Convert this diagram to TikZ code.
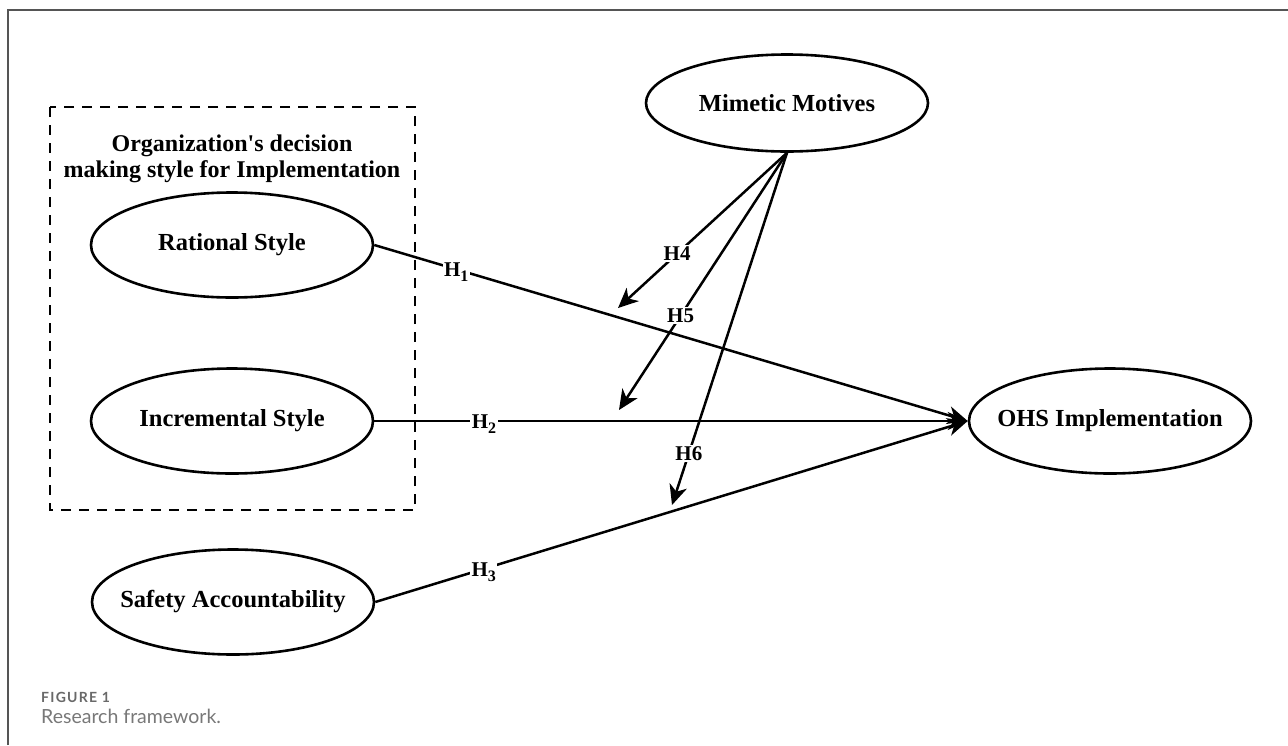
\documentclass[tikz,border=0pt]{standalone}
\usepackage{fontspec}
\setmainfont{Liberation Serif}[Ligatures=TeXOff]
\newfontfamily\capfont{Lato}
\usetikzlibrary{shapes.geometric,arrows.meta}
\definecolor{framegray}{RGB}{85,85,85}
\definecolor{capgray}{RGB}{105,105,105}
\definecolor{capgrayb}{RGB}{120,120,120}
\newcommand{\hsub}[1]{H\raisebox{-5pt}{\fontsize{16}{16}\selectfont #1}}
\begin{document}
\begin{tikzpicture}[x=1pt,y=-1pt,
  lfont/.style={font=\fontsize{24.5}{28}\selectfont\bfseries,inner sep=0pt},
  oval/.style={draw,ellipse,line width=2.6pt,inner sep=0pt,minimum width=282pt,minimum height=105pt},
  arr/.style={line width=2.5pt,-{Stealth[length=20pt,width=18pt,inset=6pt]}},
  hlab/.style={fill=white,inner sep=1.5pt,font=\fontsize{21}{24}\selectfont\bfseries},
  boxline/.style={line width=2.6pt,dash pattern=on 10pt off 8pt}]
\useasboundingbox (0,0) rectangle (1288,745);
\fill[white] (0,0) rectangle (1288,745);
% frame
\coordinate (fa) at (8,745);
\coordinate (fb) at (8,10);
\coordinate (fc) at (1288,10);
\draw[framegray,line width=1.6pt] (fa) -- (fb) -- (fc);
% dashed group box
\coordinate (g1) at (50,107);
\coordinate (g2) at (415,510);
\draw[boxline] (g1) rectangle (g2);
\node[align=center,font=\fontsize{24}{26}\selectfont\bfseries] (gtitle) at (232,159)
  {Organization's decision\\making style for Implementation};
% ellipses
\node[oval,label={[lfont]center:Rational Style}] (rs) at (232,245) {};
\node[oval,label={[lfont]center:Incremental Style}] (is) at (232,421) {};
\node[oval,label={[lfont]center:Safety Accountability}] (sa) at (233,602) {};
\node[oval,minimum height=97pt,label={[lfont]center:Mimetic Motives}] (mm) at (787,103) {};
\node[oval,label={[lfont]center:OHS Implementation}] (ohs) at (1110,421) {};
% main arrows
\draw[arr] (rs.east) -- (ohs.west) node[hlab,pos=0.138,yshift=-3pt] (h1) {\hsub{1}};
\draw[arr] (is.east) -- (ohs.west) node[hlab,pos=0.185,yshift=-3pt] (h2) {\hsub{2}};
\draw[arr] (sa.east) -- (ohs.west) node[hlab,pos=0.183,yshift=-3pt] (h3) {\hsub{3}};
% moderating arrows
\coordinate (t4) at (618,308);
\coordinate (t5) at (619,410);
\coordinate (t6) at (672,505);
\draw[arr] (mm.south) -- (t4) node[hlab,pos=0.65] (h4) {H4};
\draw[arr] (mm.south) -- (t5) node[hlab,pos=0.633] (h5) {H5};
\draw[arr] (mm.south) -- (t6) node[hlab,pos=0.853] (h6) {H6};
% caption
\node[anchor=base west,inner sep=0pt,text=capgray,font=\capfont\fontsize{14}{16}\selectfont\bfseries\addfontfeature{LetterSpace=9}] (fig) at (41,702) {FIGURE 1};
\node[anchor=base west,inner sep=0pt,text=capgrayb,font=\capfont\fontsize{19.5}{22}\selectfont] (cap) at (41,723) {Research framework.};
\end{tikzpicture}
\end{document}
